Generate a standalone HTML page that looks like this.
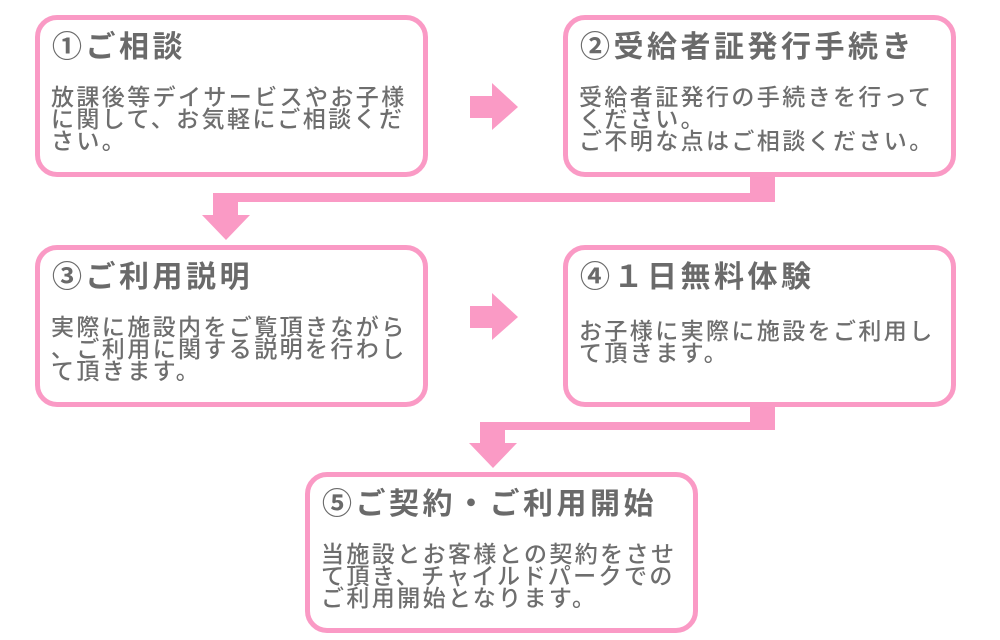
<!DOCTYPE html>
<html><head><meta charset="utf-8"><style>
body{margin:0;width:1000px;height:640px;background:#fff;position:relative;overflow:hidden;font-family:"Liberation Sans","Noto Sans CJK JP",sans-serif;color:#6e6e6e}
.b{position:absolute;box-sizing:border-box;border:5px solid #fa9ac5;border-radius:22px;background:#fff;width:393px;height:162px}
.t{position:absolute;left:12px;top:10px;font-size:30px;letter-spacing:3.5px;line-height:36px;white-space:nowrap;font-weight:bold;color:#6a6a6a}
.d{position:absolute;left:11px;top:62px;font-size:23px;letter-spacing:2.4px;line-height:22px;white-space:nowrap;font-weight:500}
.p{position:absolute;background:#fa9ac5}
</style></head><body>
<svg width="1000" height="640" style="position:absolute;left:0;top:0">
<g fill="#fa9ac5">
<rect x="750" y="177" width="25" height="25"/>
<rect x="213" y="193" width="562" height="9"/>
<rect x="213" y="193" width="25" height="23"/>
<polygon points="202,215 250,215 226,240"/>
<rect x="750" y="407" width="25" height="23"/>
<rect x="480" y="422" width="295" height="8"/>
<rect x="480" y="422" width="25" height="22"/>
<polygon points="469,443 517,443 493,468"/>
<rect x="470" y="96" width="24" height="22"/>
<polygon points="492,83 518,107 492,130"/>
<rect x="470" y="306" width="24" height="22"/>
<polygon points="492,293 518,317 492,340"/>
</g></svg>
<div class="b" style="left:35px;top:15px"><div class="t">①ご相談</div><div class="d" style="top:66px">放課後等デイサービスやお子様<br>に関して、お気軽にご相談くだ<br>さい。</div></div>
<div class="b" style="left:563px;top:15px"><div class="t">②受給者証発行手続き</div><div class="d" style="top:66px">受給者証発行の手続きを行って<br>ください。<br>ご不明な点はご相談ください。</div></div>
<div class="b" style="left:35px;top:245px"><div class="t">③ご利用説明</div><div class="d" style="top:66px">実際に施設内をご覧頂きながら<br>、ご利用に関する説明を行わし<br>て頂きます。</div></div>
<div class="b" style="left:563px;top:245px"><div class="t">④１日無料体験</div><div class="d" style="top:70px">お子様に実際に施設をご利用し<br>て頂きます。</div></div>
<div class="b" style="left:305px;top:472px;height:161px"><div class="t">⑤ご契約・ご利用開始</div><div class="d" style="top:66px">当施設とお客様との契約をさせ<br>て頂き、チャイルドパークでの<br>ご利用開始となります。</div></div>
</body></html>
